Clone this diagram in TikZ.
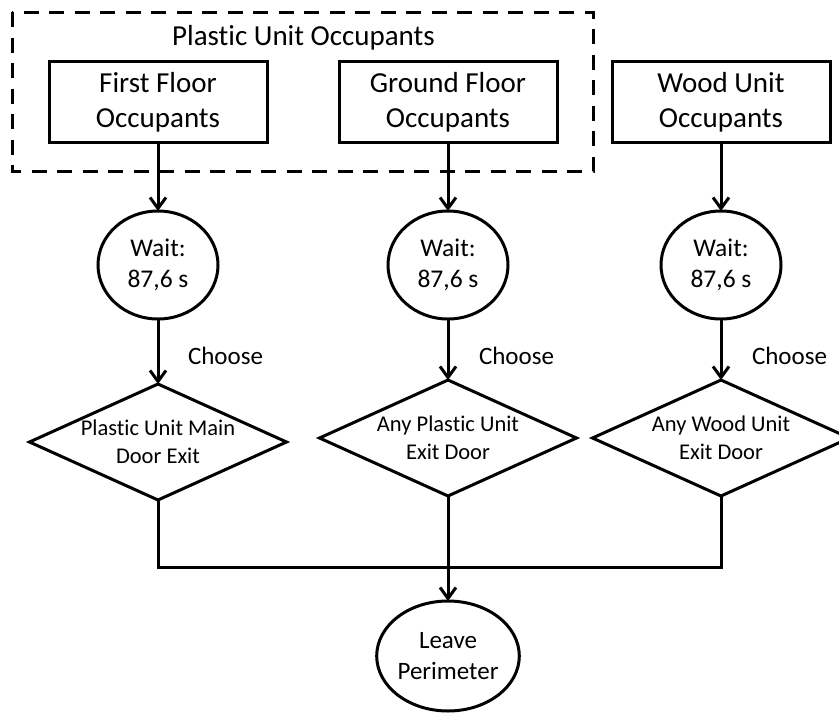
\documentclass[tikz,border=0pt]{standalone}
\usepackage{fontspec}
\setmainfont{Carlito}[Ligatures={NoCommon}]
\usetikzlibrary{shapes.geometric,arrows.meta}
\begin{document}
\begin{tikzpicture}[x=1pt,y=-1pt,
  every node/.style={inner sep=0pt, outer sep=0pt},
  lw/.style={line width=3pt},
  groupbox/.style={lw, dash pattern=on 15pt off 10.5pt},
  occbox/.style={draw, lw, rectangle, minimum width=218pt, minimum height=81pt,
    align=center, font=\fontsize{29}{35.4}\selectfont},
  waitnode/.style={draw, lw, ellipse, minimum width=120pt, minimum height=108pt,
    align=center, font=\fontsize{25.5}{31}\selectfont},
  exitnode/.style={draw, lw, diamond, aspect=2.2, minimum width=257pt, minimum height=116pt,
    align=center, font=\fontsize{22.5}{28}\selectfont},
  endnode/.style={draw, lw, ellipse, minimum width=138pt, minimum height=110pt,
    align=center, font=\fontsize{25}{31}\selectfont},
  choicelabel/.style={anchor=base west, font=\fontsize{25}{31}\selectfont},
  flow/.style={lw, -{Straight Barb[length=11pt,width=16pt]}},
  link/.style={lw},
]
\useasboundingbox (0,0) rectangle (839,713);
\clip (0,0) rectangle (839,713);

% group of the plastic unit
\draw[groupbox] (12,12) rectangle (593,171);
\node[anchor=base, font=\fontsize{29}{35}\selectfont] (title) at (303.5,45) {Plastic Unit Occupants};

% occupant groups
\node[occbox] (occ1) at (158,102) {First Floor\\Occupants};
\node[occbox] (occ2) at (448,102) {Ground Floor\\Occupants};
\node[occbox] (occ3) at (721,102) {Wood Unit\\Occupants};

% waiting times
\node[waitnode] (wait1) at (158,265) {Wait:\\87,6 s};
\node[waitnode] (wait2) at (448,265) {Wait:\\87,6 s};
\node[waitnode] (wait3) at (721,265) {Wait:\\87,6 s};

% exit choices
\node[exitnode] (exit1) at (158,442) {Plastic Unit Main\\Door Exit};
\node[exitnode] (exit2) at (448,438) {Any Plastic Unit\\Exit Door};
\node[exitnode] (exit3) at (721,438) {Any Wood Unit\\Exit Door};

\node[choicelabel] (ch1) at (188,364) {Choose};
\node[choicelabel] (ch2) at (479,364) {Choose};
\node[choicelabel] (ch3) at (752,364) {Choose};

% final step
\node[endnode] (leave) at (448,656) {Leave\\Perimeter};

% connectors
\foreach \i in {1,2,3} {
  \draw[flow] (occ\i.south) -- (wait\i.north);
  \draw[flow] (wait\i.south) -- (exit\i.north);
}
\coordinate (join) at (448,567);
\draw[link] (exit1.south) |- (join) -| (exit3.south);
\draw[flow] (exit2.south) -- (leave.north);
\end{tikzpicture}
\end{document}
